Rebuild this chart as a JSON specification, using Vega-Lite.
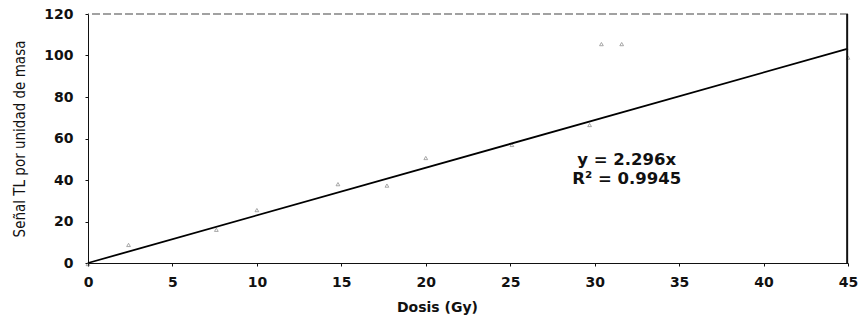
{
  "$schema": "https://vega.github.io/schema/vega-lite/v6.json",
  "width": 760,
  "height": 249,
  "autosize": {"type": "none"},
  "padding": {"left": 88, "top": 14, "right": 13, "bottom": 72},
  "background": "white",
  "config": {
    "view": {"stroke": null},
    "axis": {"grid": false, "domainColor": "#111", "tickColor": "#111", "labelColor": "#111", "titleColor": "#111"}
  },
  "datasets": {
    "puntos": [
      {"dosis": 0, "senal": -0.5},
      {"dosis": 2.4, "senal": 8.7},
      {"dosis": 7.6, "senal": 16},
      {"dosis": 10, "senal": 25.5},
      {"dosis": 14.8, "senal": 38},
      {"dosis": 17.7, "senal": 37.3},
      {"dosis": 20, "senal": 50.6},
      {"dosis": 25.1, "senal": 56.9},
      {"dosis": 29.7, "senal": 66.5},
      {"dosis": 30.4, "senal": 105.5},
      {"dosis": 31.6, "senal": 105.5},
      {"dosis": 45, "senal": 99}
    ],
    "ajuste": [
      {"dosis": 0, "senal": 0},
      {"dosis": 45, "senal": 103.3}
    ],
    "uno": [{}]
  },
  "layer": [
    {
      "data": {"name": "uno"},
      "mark": {"type": "rule", "color": "#444", "strokeDash": [8, 3], "strokeWidth": 1.2},
      "encoding": {"y": {"datum": 120, "type": "quantitative"}}
    },
    {
      "data": {"name": "puntos"},
      "mark": {"type": "point", "shape": "triangle-up", "size": 14, "color": "#666", "strokeWidth": 0.8, "filled": false},
      "encoding": {
        "x": {"field": "dosis", "type": "quantitative"},
        "y": {"field": "senal", "type": "quantitative"}
      }
    },
    {
      "data": {"name": "ajuste"},
      "mark": {"type": "line", "color": "#000", "strokeWidth": 1.8},
      "encoding": {
        "x": {
          "field": "dosis", "type": "quantitative",
          "scale": {"domain": [0, 45], "nice": false, "zero": true},
          "axis": {
            "title": "Dosis (Gy)", "values": [0, 5, 10, 15, 20, 25, 30, 35, 40, 45],
            "labelFont": "DejaVu Sans", "labelFontWeight": "bold", "labelFontSize": 14,
            "labelPadding": 9, "tickSize": 3, "labelFlush": false,
            "titleFont": "DejaVu Sans", "titleFontWeight": "bold", "titleFontSize": 14,
            "titlePadding": 11, "titleX": 349
          }
        },
        "y": {
          "field": "senal", "type": "quantitative",
          "scale": {"domain": [0, 120], "nice": false},
          "axis": {
            "title": "Señal TL por unidad de masa", "values": [0, 20, 40, 60, 80, 100, 120],
            "labelFont": "DejaVu Sans", "labelFontWeight": "bold", "labelFontSize": 14,
            "labelPadding": 12, "tickSize": 3,
            "titleFont": "DejaVu Sans Condensed", "titleFontWeight": "normal", "titleFontSize": 15,
            "titlePadding": 16
          }
        }
      }
    },
    {
      "data": {"name": "uno"},
      "mark": {"type": "rule", "color": "#111", "strokeWidth": 2},
      "encoding": {
        "x": {"datum": 44.95, "type": "quantitative"}
      }
    },
    {
      "data": {"name": "uno"},
      "mark": {"type": "text", "font": "DejaVu Sans", "fontWeight": "bold", "fontSize": 16.5, "color": "#111", "align": "center", "baseline": "middle", "text": "y = 2.296x"},
      "encoding": {
        "x": {"datum": 31.9, "type": "quantitative"},
        "y": {"datum": 49.8, "type": "quantitative"}
      }
    },
    {
      "data": {"name": "uno"},
      "mark": {"type": "text", "font": "DejaVu Sans", "fontWeight": "bold", "fontSize": 16.5, "color": "#111", "align": "center", "baseline": "middle", "text": "R² = 0.9945"},
      "encoding": {
        "x": {"datum": 31.9, "type": "quantitative"},
        "y": {"datum": 40.3, "type": "quantitative"}
      }
    }
  ]
}
